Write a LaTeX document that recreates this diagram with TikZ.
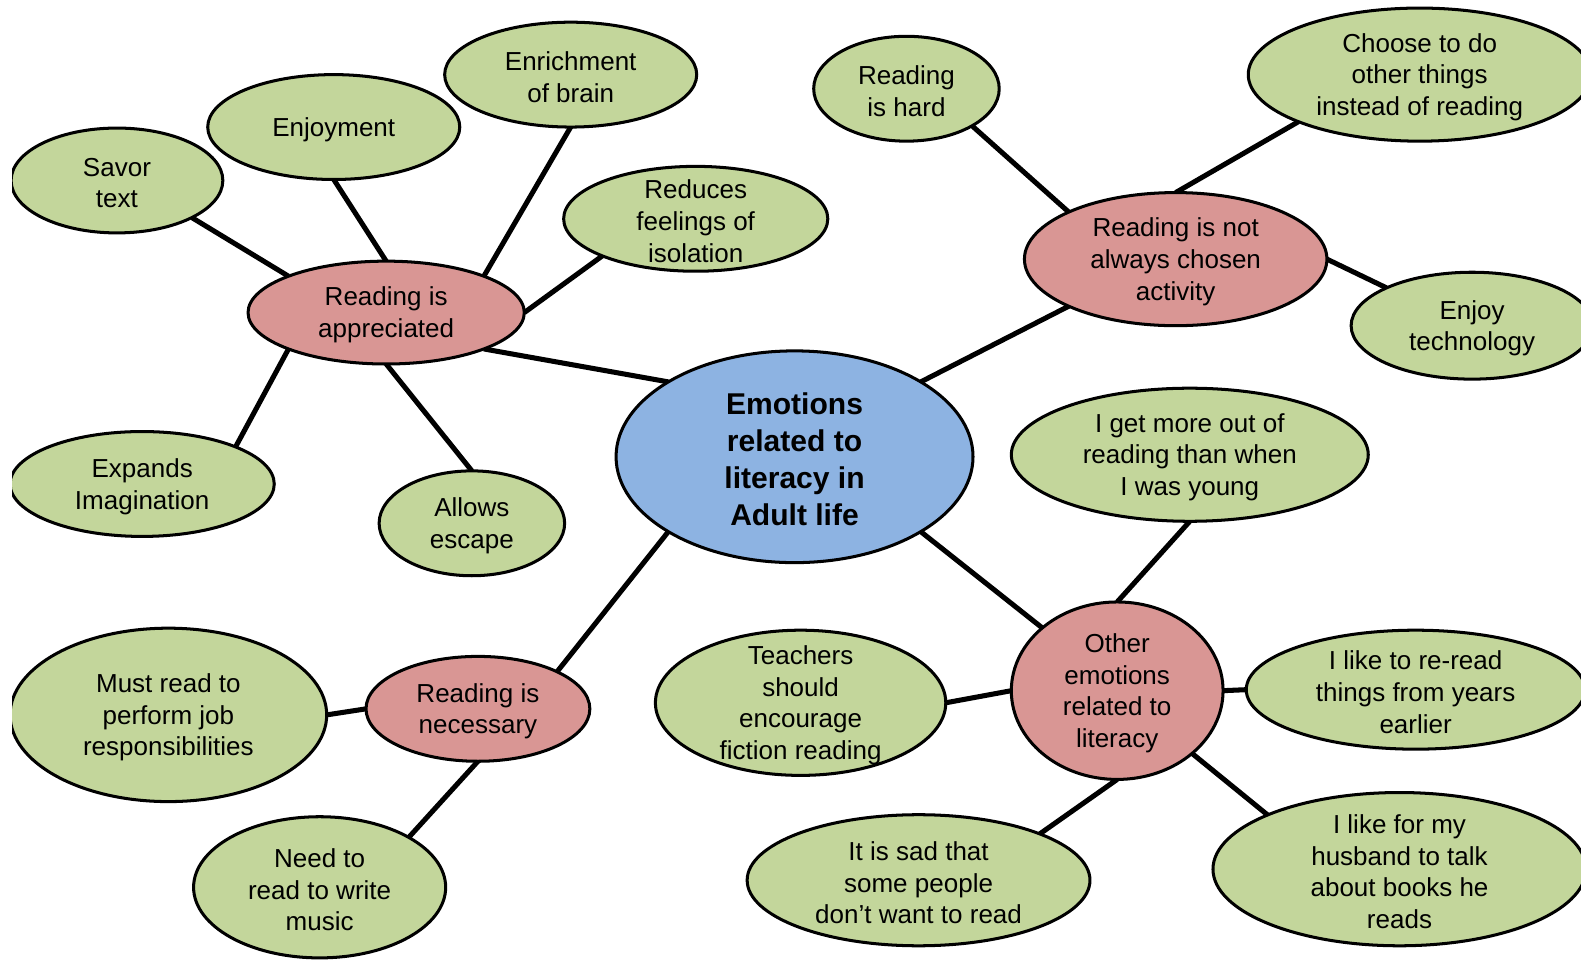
\documentclass[tikz,border=0pt]{standalone}
\usepackage{fontspec}
\setmainfont{Liberation Sans}
\usetikzlibrary{shapes.geometric,backgrounds}
\definecolor{hubblue}{HTML}{8DB3E2}
\definecolor{branchred}{HTML}{D99694}
\definecolor{leafgreen}{HTML}{C3D69B}
\tikzset{
  bubble/.style args={#1/#2}{ellipse, draw=black, line width=3pt,
    inner sep=0pt, outer sep=0pt, minimum width=2*#1, minimum height=2*#2},
  hubbox/.style={bubble=#1, fill=hubblue},
  branchbox/.style={bubble=#1, fill=branchred},
  leafbox/.style={bubble=#1, fill=leafgreen},
  txt/.style={align=center, inner sep=0pt, text=black, yshift=-2.5pt,
    font=\fontsize{25.8}{31.5}\selectfont},
  hubtxt/.style={align=center, inner sep=0pt, text=black, yshift=-2.5pt,
    font=\fontsize{29.8}{37}\selectfont\bfseries},
  link/.style={draw=black, line width=5pt}
}
\begin{document}
\begin{tikzpicture}[x=1pt, y=-1pt]
\useasboundingbox (0,0) rectangle (1568,953);
\clip (12,0) rectangle (1568,953);

% centre
\node[hubbox=177/105] (hub) at (788,453) {};
\node[hubtxt] (hub-t) at (hub) {Emotions\\related to\\literacy in\\Adult life};

% branches
\node[branchbox=137/51] (app) at (383,310) {};
\node[txt] (app-t) at (app) {Reading is\\appreciated};
\node[branchbox=150/66] (notch) at (1166,257) {};
\node[txt] (notch-t) at (notch) {Reading is not\\always chosen\\activity};
\node[branchbox=111/52] (nec) at (474,703) {};
\node[txt] (nec-t) at (nec) {Reading is\\necessary};
\node[branchbox=105/88] (oth) at (1108,685) {};
\node[txt] (oth-t) at (oth) {Other\\emotions\\related to\\literacy};

% leaves of "appreciated"
\node[leafbox=105/52] (savor) at (116,179) {};
\node[txt] (savor-t) at (savor) {Savor\\text};
\node[leafbox=125/52] (enjoy) at (331,126) {};
\node[txt] (enjoy-t) at (enjoy) {Enjoyment};
\node[leafbox=125/52] (enrich) at (566,74) {};
\node[txt] (enrich-t) at (enrich) {Enrichment\\of brain};
\node[leafbox=131/52] (isol) at (690,217) {};
\node[txt] (isol-t) at (isol) {Reduces\\feelings of\\isolation};
\node[leafbox=131/52] (imag) at (141,480) {};
\node[txt] (imag-t) at (imag) {Expands\\Imagination};
\node[leafbox=92/52] (escape) at (468,519) {};
\node[txt] (escape-t) at (escape) {Allows\\escape};

% leaves of "not always chosen"
\node[leafbox=92/52] (hard) at (899,88) {};
\node[txt] (hard-t) at (hard) {Reading\\is hard};
\node[leafbox=170/66] (other) at (1408,74) {};
\node[txt] (other-t) at (other) {Choose to do\\other things\\instead of reading};
\node[leafbox=120/53] (tech) at (1460,323) {};
\node[txt] (tech-t) at (tech) {Enjoy\\technology};

% leaves of "other emotions"
\node[leafbox=177/66] (young) at (1180,451) {};
\node[txt] (young-t) at (young) {I get more out of\\reading than when\\I was young};
\node[leafbox=168/59] (reread) at (1404,684) {};
\node[txt] (reread-t) at (reread) {I like to re-read\\things from years\\earlier};
\node[leafbox=144/72] (fiction) at (794,697) {};
\node[txt] (fiction-t) at (fiction) {Teachers\\should\\encourage\\fiction reading};
\node[leafbox=170/65] (sad) at (911,873) {};
\node[txt] (sad-t) at (sad) {It is sad that\\some people\\don’t want to read};
\node[leafbox=185/76] (husb) at (1388,862) {};
\node[txt] (husb-t) at (husb) {I like for my\\husband to talk\\about books he\\reads};

% leaves of "necessary"
\node[leafbox=157/86] (job) at (167,709) {};
\node[txt] (job-t) at (job) {Must read to\\perform job\\responsibilities};
\node[leafbox=125/70] (music) at (317,880) {};
\node[txt] (music-t) at (music) {Need to\\read to write\\music};

% connectors
\begin{pgfonlayer}{background}
\draw[link] (hub.north west) -- (app.south east);
\draw[link] (hub.north east) -- (notch.south west);
\draw[link] (hub.south west) -- (nec.north east);
\draw[link] (hub.south east) -- (oth.north west);
\draw[link] (app.north west) -- (savor.south east);
\draw[link] (app.north) -- (enjoy.south);
\draw[link] (app.north east) -- (enrich.south);
\draw[link] (app.east) -- (isol.south west);
\draw[link] (app.south west) -- (imag.north east);
\draw[link] (app.south) -- (escape.north);
\draw[link] (notch.north west) -- (hard.south east);
\draw[link] (notch.north) -- (other.south west);
\draw[link] (notch.east) -- (tech.north west);
\draw[link] (oth.north) -- (young.south);
\draw[link] (oth.west) -- (fiction.east);
\draw[link] (oth.east) -- (reread.west);
\draw[link] (oth.south) -- (sad.north east);
\draw[link] (oth.south east) -- (husb.north west);
\draw[link] (nec.west) -- (job.east);
\draw[link] (nec.south) -- (music.north east);
\end{pgfonlayer}
\end{tikzpicture}
\end{document}
